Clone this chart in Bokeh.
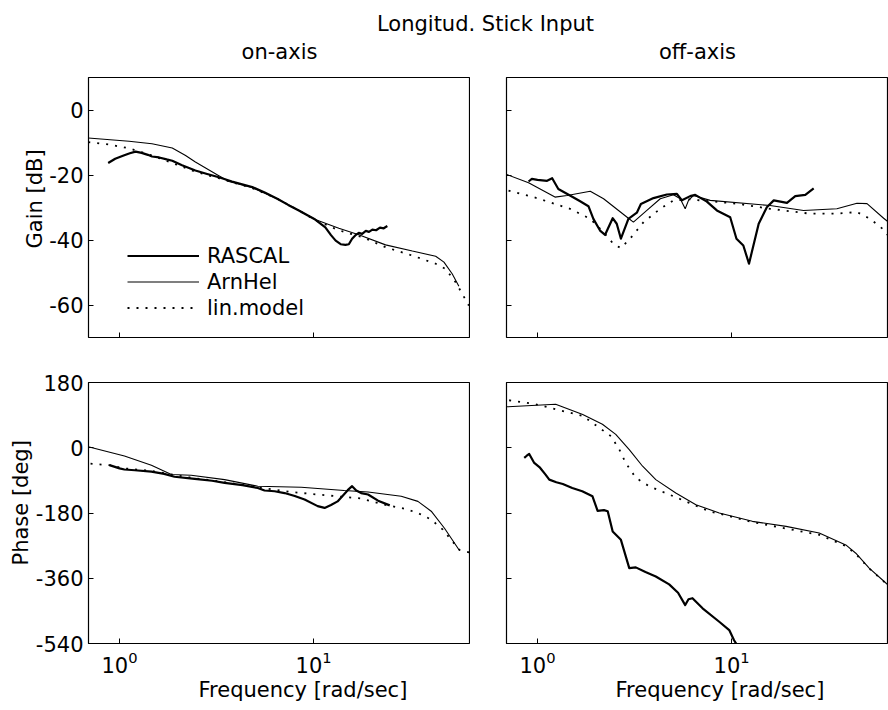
from bokeh.plotting import figure
from bokeh.models import (Range1d, FixedTicker, Legend, LegendItem, Label, Title,
                          CustomJSTickFormatter)
from bokeh.layouts import column, row
from bokeh.embed import file_html
from bokeh.resources import INLINE

# ---------------- data ----------------
# on-axis gain [dB]
tl_f_rascal = [0.874, 0.95, 1.05, 1.13, 1.21, 1.30, 1.40, 1.47, 1.60, 1.75, 1.87, 2.1, 2.46, 2.8,
               3.25, 3.8, 4.83, 5.6, 6.50, 7.4, 8.40, 9.3, 10.2, 11.5, 12.3, 13.0, 13.8, 14.6, 15.2,
               15.8, 16.4, 17.1, 17.8, 18.6, 19.3, 20.1, 21.0, 22.0, 23.0, 24.0]
tl_db_rascal = [-16.3, -15.0, -14.0, -13.3, -12.8, -13.2, -13.8, -14.3, -14.6, -15.2, -15.6, -17.0,
                -18.6, -19.6, -20.7, -22.0, -23.7, -25.4, -27.3, -29.2, -30.9, -32.4, -33.7, -36.1,
                -38.5, -40.2, -41.3, -41.5, -41.3, -39.6, -38.6, -37.8, -38.1, -37.2, -37.5, -36.8,
                -37.0, -36.2, -36.4, -35.7]
tl_f_arnhel = [0.69, 1.12, 1.47, 1.87, 2.19, 2.46, 3.25, 3.66, 4.83, 6.50, 8.40, 10.2, 13.5, 17.1,
               23.5, 32.3, 42.6, 47.0, 51.8, 56.1]
tl_db_arnhel = [-8.6, -9.6, -10.4, -11.7, -14.0, -16.0, -20.2, -22.0, -23.9, -27.3, -30.9, -33.7,
                -36.4, -38.4, -41.5, -43.4, -45.0, -46.8, -50.4, -54.2]
tl_f_lin = [0.69, 0.88, 1.12, 1.47, 1.87, 2.46, 3.25, 4.83, 6.50, 8.40, 10.2, 13.5, 17.8, 23.5,
            32.3, 42.6, 47.9, 54.0, 63.2]
tl_db_lin = [-9.9, -10.6, -11.8, -14.0, -16.3, -19.0, -21.0, -24.0, -27.3, -30.9, -33.9, -37.0,
             -39.1, -42.2, -44.8, -47.3, -48.9, -53.0, -60.2]

# off-axis gain [dB]
tr_f_rascal = [0.899, 0.935, 1.0, 1.12, 1.19, 1.28, 1.47, 1.65, 1.83, 1.94, 2.10, 2.23, 2.44, 2.56,
               2.69, 2.94, 3.25, 3.41, 3.96, 4.64, 5.23, 5.55, 6.12, 6.50, 7.46, 8.40, 9.84, 10.6,
               11.5, 12.3, 13.8, 15.2, 16.5, 19.3, 21.3, 24.0, 26.5]
tr_db_rascal = [-22.0, -21.2, -21.5, -21.8, -21.0, -24.3, -26.3, -28.0, -29.6, -33.5, -37.1, -38.4,
                -33.3, -35.0, -39.6, -33.5, -31.6, -28.9, -27.1, -26.0, -25.8, -27.8, -26.5, -26.1,
                -28.2, -30.9, -33.0, -39.6, -41.7, -47.3, -35.0, -29.9, -27.8, -28.6, -26.5, -26.1,
                -24.1]
tr_f_arnhel = [0.69, 0.899, 1.23, 1.42, 1.87, 2.19, 2.94, 3.12, 3.66, 4.29, 5.02, 5.44, 5.77, 6.0,
               6.37, 7.76, 15.8, 23.5, 34.9, 44.3, 49.9, 60.8, 64.4]
tr_db_arnhel = [-19.8, -22.4, -26.8, -26.3, -25.0, -27.3, -33.3, -34.5, -30.9, -27.3, -26.1, -27.3,
                -30.4, -27.8, -26.3, -27.8, -29.4, -30.9, -30.4, -28.7, -28.8, -33.3, -34.5]
tr_f_lin = [0.709, 0.992, 1.47, 1.87, 2.19, 2.46, 2.69, 3.0, 3.52, 4.29, 5.02, 6.1, 10.6, 15.8,
            25.4, 34.9, 44.3, 51.8, 60.8, 64.4]
tr_db_lin = [-24.8, -27.1, -30.4, -33.5, -37.6, -41.2, -42.5, -39.6, -34.5, -30.4, -27.8, -27.5,
             -28.8, -30.4, -31.9, -31.9, -31.4, -33.5, -36.8, -38.8]

# on-axis phase [deg]
bl_f_rascal = [0.888, 1.0, 1.06, 1.2, 1.46, 1.7, 1.92, 2.44, 3.0, 3.48, 4.3, 5.16, 5.59, 6.3, 7.09,
               8.0, 8.99, 10.5, 11.4, 12.3, 13.3, 15.0, 15.8, 16.6, 17.6, 19.1, 21.5, 24.7]
bl_ph_rascal = [-48, -57, -60, -62, -66, -72, -80, -86, -91, -97, -103, -111, -118, -120, -125,
                -133, -143, -161, -166, -158, -148, -117, -106, -118, -125, -129, -146, -159]
bl_f_arnhel = [0.69, 1.06, 1.46, 1.85, 2.34, 3.48, 5.16, 8.64, 14.4, 19.1, 28.3, 34.5, 40.4, 47.3,
               56.6]
bl_ph_arnhel = [3, -23, -48, -74, -76, -88, -106, -109, -118, -122, -134, -148, -175, -222, -284]
bl_f_lin = [0.709, 0.888, 1.06, 1.46, 1.92, 2.44, 3.48, 5.16, 7.67, 10.5, 13.9, 17.6, 23.2, 29.4,
            34.5, 40.4, 46.4, 51.2, 56.6, 64.4]
bl_ph_lin = [-44, -48, -57, -64, -75, -84, -95, -109, -122, -129, -135, -140, -157, -168, -180,
             -198, -226, -254, -282, -290]

# off-axis phase [deg]
br_f_rascal = [0.854, 0.88, 0.906, 0.962, 1.03, 1.10, 1.15, 1.25, 1.35, 1.51, 1.7, 1.92, 2.04, 2.20,
               2.30, 2.44, 2.69, 2.97, 3.21, 3.6, 4.07, 4.77, 5.3, 5.77, 6.0, 6.29, 7.09, 8.64,
               9.73, 10.3, 10.7]
br_ph_rascal = [-28, -22, -17, -42, -55, -74, -88, -95, -100, -111, -120, -134, -174, -172, -175,
                -231, -254, -332, -330, -343, -355, -377, -400, -434, -418, -415, -443, -480, -503,
                -531, -545]
br_f_arnhel = [0.69, 1.24, 1.71, 2.16, 2.53, 2.97, 3.48, 4.07, 5.16, 6.55, 8.64, 12.8, 19.1, 28.3,
               38.8, 43.7, 51.2, 61.2, 64.4]
br_ph_arnhel = [113, 120, 92, 65, 37, -5, -51, -88, -125, -157, -180, -203, -217, -235, -268, -291,
                -332, -369, -380]
br_f_lin = [0.714, 0.98, 1.24, 1.71, 2.39, 2.64, 2.85, 3.21, 3.76, 4.77, 6.05, 7.67, 12.8, 19.1,
            28.3, 38.8, 43.7, 51.2, 61.2, 64.4]
br_ph_lin = [131, 120, 106, 88, 32, -5, -42, -83, -106, -129, -152, -175, -205, -223, -240, -271,
             -293, -333, -370, -381]

freq_ticks = [1, 10]
gain_ticks = [-60, -40, -20, 0]
phase_ticks = [-540, -360, -180, 0, 180]
series_names = ["RASCAL", "ArnHel", "lin.model"]

FONT = "DejaVu Sans"
FS = "21px"
BLANK = CustomJSTickFormatter(code="return ''")
PLAIN = CustomJSTickFormatter(code="return tick.toString()")


def panel(width, height, yr, yticks, top, left, bottom, xlabels, ylabels):
    p = figure(width=width, height=height, x_axis_type="log",
               x_range=Range1d(0.692, 64.4), y_range=Range1d(*yr),
               toolbar_location=None, output_backend="svg", title=None,
               min_border_left=left, min_border_right=0, min_border_top=top,
               min_border_bottom=bottom)
    p.grid.visible = False
    p.outline_line_color = "black"
    p.outline_line_width = 1.2
    p.background_fill_color = "white"
    p.border_fill_color = "white"
    for ax in (p.xaxis[0], p.yaxis[0]):
        ax.axis_line_color = None
        ax.major_tick_in = 5
        ax.major_tick_out = 0
        ax.minor_tick_line_color = None
        ax.major_tick_line_color = "black"
        ax.major_label_text_font = FONT
        ax.major_label_text_font_size = FS
        ax.major_label_text_color = "black"
    p.xaxis[0].ticker = FixedTicker(ticks=freq_ticks)
    p.yaxis[0].ticker = FixedTicker(ticks=yticks)
    if not xlabels:
        p.xaxis[0].formatter = BLANK
        p.xaxis[0].major_label_text_font_size = "6px"
    else:
        p.xaxis[0].major_label_standoff = 7
    if not ylabels:
        p.yaxis[0].formatter = BLANK
        p.yaxis[0].major_label_text_font_size = "6px"
    else:
        p.yaxis[0].formatter = PLAIN
        p.yaxis[0].major_label_standoff = 5
    return p


def side_title(p, text, side, offset):
    # axis title set slightly off-centre, as in the original figure
    p.add_layout(Title(text=text, align="left", offset=offset, standoff=0,
                       text_font=FONT, text_font_size=FS, text_font_style="normal",
                       text_color="black"), side)


def draw(p, fr, yr_, fa, ya, fl, yl):
    r1 = p.line(fr, yr_, line_color="black", line_width=2.2, line_join="round")
    r2 = p.line(fa, ya, line_color="black", line_width=1.1)
    r3 = p.line(fl, yl, line_color="black", line_width=1.8, line_dash="2 7")
    return r1, r2, r3


# header with titles
head = figure(width=888, height=77, x_range=Range1d(0, 888), y_range=Range1d(77, 0),
              toolbar_location=None, output_backend="svg", title=None,
              x_axis_location=None, y_axis_location=None, min_border=0)
head.outline_line_color = None
head.grid.visible = False
for txt, x, y in (("Longitud. Stick Input", 485, 23), ("on-axis", 279, 51), ("off-axis", 697, 51)):
    head.add_layout(Label(x=x, y=y, text=txt, text_align="center", text_baseline="middle",
                          text_font=FONT, text_font_size=FS, text_color="black"))

tl = panel(470, 290, (-70, 10), gain_ticks, 0, 88, 30, False, True)
tr = panel(418, 290, (-70, 10), gain_ticks, 0, 36, 30, False, False)
bl = panel(470, 342, (-540, 180), phase_ticks, 15, 88, 66, True, True)
br = panel(418, 342, (-540, 180), phase_ticks, 15, 36, 66, True, False)

side_title(tl, "Gain [dB]", "left", 89)
side_title(bl, "Phase [deg]", "left", 78)
side_title(bl, "Frequency [rad/sec]", "below", 110)
side_title(br, "Frequency [rad/sec]", "below", 109)

rs = draw(tl, tl_f_rascal, tl_db_rascal, tl_f_arnhel, tl_db_arnhel, tl_f_lin, tl_db_lin)
draw(tr, tr_f_rascal, tr_db_rascal, tr_f_arnhel, tr_db_arnhel, tr_f_lin, tr_db_lin)
draw(bl, bl_f_rascal, bl_ph_rascal, bl_f_arnhel, bl_ph_arnhel, bl_f_lin, bl_ph_lin)
draw(br, br_f_rascal, br_ph_rascal, br_f_arnhel, br_ph_arnhel, br_f_lin, br_ph_lin)

legend = Legend(items=[LegendItem(label=n, renderers=[r]) for n, r in zip(series_names, rs)],
                location=(39, 17), glyph_width=72, glyph_height=25, label_height=25,
                label_standoff=8, spacing=1, padding=0, margin=0,
                border_line_color=None, background_fill_alpha=0,
                label_text_font=FONT, label_text_font_size=FS, label_text_color="black")
tl.add_layout(legend)

layout = column(head, row(tl, tr), row(bl, br))
open("out.html", "w").write(file_html(layout, INLINE))
